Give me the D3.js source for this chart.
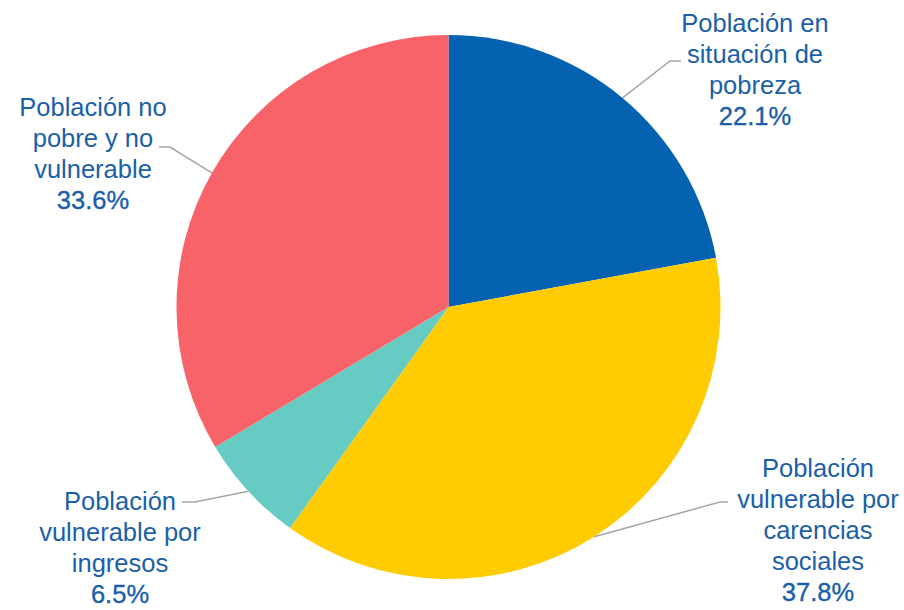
<!DOCTYPE html>
<html>
<head>
<meta charset="utf-8">
<script src="https://cdn.jsdelivr.net/npm/d3@7"></script>
<style>
  html, body { margin: 0; padding: 0; background: #fff; }
  svg { display: block; }
</style>
</head>
<body>
<div id="chart"></div>
<script>
// data
var categories = ["pobreza", "carencias", "ingresos", "noPobre"];
var values = [22.1, 37.8, 6.5, 33.6];
var labelLines = [
  ["Población en", "situación de", "pobreza"],
  ["Población", "vulnerable por", "carencias", "sociales"],
  ["Población", "vulnerable por", "ingresos"],
  ["Población no", "pobre y no", "vulnerable"]
];
var colors = ["#0562b1", "#ffcc02", "#66cbc3", "#f8636a"];

// layout of the labels (text centre x, first baseline y, elbow of leader, end of leader)
var labelLayout = [
  { x: 755, y: 32, elbow: [670, 61], end: [681, 61] },
  { x: 818, y: 477, elbow: [720, 502], end: [728, 502] },
  { x: 120, y: 510, elbow: [195, 502], end: [182, 502] },
  { x: 93, y: 116, elbow: [170, 147], end: [159, 147] }
];

var width = 904, height = 610;
var cx = 448.5, cy = 307, radius = 272;
var lineH = 31;
var textColor = "#1a5fa8";

var svg = d3.select("#chart")
  .append("svg")
  .attr("width", width)
  .attr("height", height);

var g = svg.append("g")
  .attr("transform", "translate(" + cx + "," + cy + ")");

var pie = d3.pie().sort(null).value(function (d) { return d; });
var arcs = pie(values);
var arc = d3.arc().innerRadius(0).outerRadius(radius);

g.selectAll("path.slice")
  .data(arcs)
  .enter()
  .append("path")
  .attr("class", "slice")
  .attr("d", arc)
  .attr("fill", function (d, i) { return colors[i]; });

// leader lines start on the rim at mid angle
arcs.forEach(function (d, i) {
  var mid = (d.startAngle + d.endAngle) / 2;
  var sx = cx + radius * Math.sin(mid);
  var sy = cy - radius * Math.cos(mid);
  var lay = labelLayout[i];
  svg.append("polyline")
    .attr("points", [[sx, sy], lay.elbow, lay.end].map(function (p) { return p.join(","); }).join(" "))
    .attr("fill", "none")
    .attr("stroke", "#a6a6a6")
    .attr("stroke-width", 1.5);
});

// labels
arcs.forEach(function (d, i) {
  var lay = labelLayout[i];
  var t = svg.append("text")
    .attr("text-anchor", "middle")
    .attr("font-family", "'Liberation Sans', Arial, Helvetica, sans-serif")
    .attr("font-size", "25.5px")
    .attr("fill", textColor);
  labelLines[i].forEach(function (line, k) {
    t.append("tspan")
      .attr("x", lay.x)
      .attr("y", lay.y + k * lineH)
      .text(line);
  });
  t.append("tspan")
    .attr("x", lay.x)
    .attr("y", lay.y + labelLines[i].length * lineH)
    .attr("stroke", textColor)
    .attr("stroke-width", 0.35)
    .text(d3.format(".1f")(values[i]) + "%");
});
</script>
</body>
</html>
